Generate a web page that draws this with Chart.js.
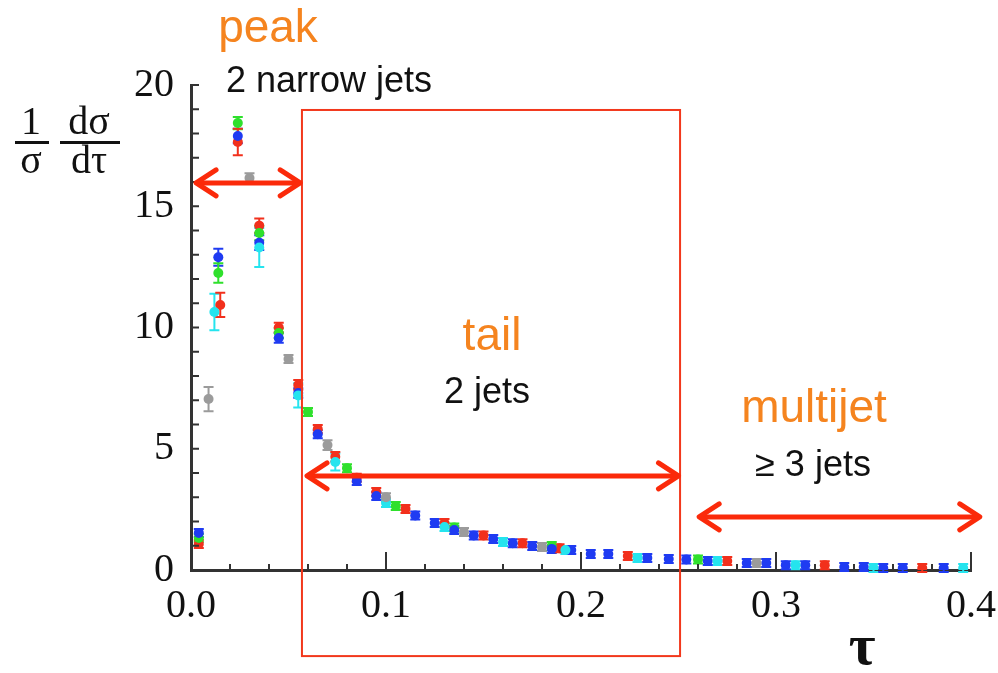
<!DOCTYPE html>
<html>
<head>
<meta charset="utf-8">
<script src="https://cdn.jsdelivr.net/npm/chart.js@4.4.1/dist/chart.umd.min.js"></script>
<style>
  html, body { margin: 0; padding: 0; background: #fff; }
  #wrap { width: 998px; height: 673px; }
</style>
</head>
<body>
<div id="wrap"><canvas id="myChart" width="998" height="673"></canvas></div>
<script>
// data: [tau, 1/sigma dsigma/dtau, error]
const redPts = [
  [0.004, 1.07, 0.15], [0.015, 10.93, 0.5], [0.024, 17.65, 0.55], [0.035, 14.2, 0.3],
  [0.045, 10.0, 0.2], [0.055, 7.63, 0.2], [0.065, 5.81, 0.15], [0.074, 4.67, 0.2],
  [0.085, 3.8, 0.1], [0.095, 3.22, 0.1], [0.11, 2.52, 0.05], [0.13, 1.94, 0.05],
  [0.15, 1.42, 0.05], [0.17, 1.1, 0.04], [0.189, 0.9, 0.04], [0.224, 0.58, 0.03],
  [0.275, 0.37, 0.02], [0.325, 0.2, 0.02], [0.375, 0.08, 0.02]
];
const greenPts = [
  [0.004, 1.32, 0.15], [0.014, 12.25, 0.4], [0.024, 18.43, 0.25], [0.035, 13.9, 0.3],
  [0.045, 9.77, 0.2], [0.06, 6.52, 0.1], [0.08, 4.2, 0.08], [0.105, 2.64, 0.06],
  [0.135, 1.75, 0.05], [0.185, 0.99, 0.04], [0.26, 0.43, 0.02]
];
const bluePts = [
  [0.004, 1.53, 0.15], [0.014, 12.9, 0.35], [0.024, 17.9, 0.3], [0.035, 13.5, 0.3],
  [0.045, 9.57, 0.2], [0.055, 7.3, 0.2], [0.065, 5.6, 0.1], [0.085, 3.67, 0.1],
  [0.095, 3.05, 0.08], [0.115, 2.25, 0.05], [0.125, 1.94, 0.05], [0.135, 1.65, 0.04],
  [0.145, 1.42, 0.04], [0.155, 1.28, 0.04], [0.165, 1.1, 0.03], [0.175, 0.99, 0.03],
  [0.185, 0.87, 0.03], [0.195, 0.82, 0.03], [0.205, 0.66, 0.03], [0.214, 0.66, 0.03],
  [0.234, 0.5, 0.02], [0.245, 0.45, 0.02], [0.254, 0.43, 0.02], [0.265, 0.37, 0.02],
  [0.285, 0.29, 0.02], [0.295, 0.29, 0.02], [0.305, 0.2, 0.02], [0.315, 0.2, 0.02],
  [0.335, 0.12, 0.02], [0.345, 0.12, 0.02], [0.355, 0.08, 0.02], [0.365, 0.08, 0.02],
  [0.386, 0.08, 0.02]
];
const cyanPts = [
  [0.012, 10.64, 0.75], [0.035, 13.3, 0.8], [0.055, 7.2, 0.5], [0.074, 4.45, 0.35],
  [0.1, 2.76, 0.15], [0.13, 1.77, 0.08], [0.16, 1.15, 0.05], [0.192, 0.82, 0.05],
  [0.229, 0.5, 0.04], [0.27, 0.37, 0.03], [0.31, 0.2, 0.02], [0.35, 0.08, 0.02],
  [0.396, 0.08, 0.02]
];
const grayPts = [
  [0.009, 7.05, 0.5], [0.03, 16.16, 0.2], [0.05, 8.7, 0.15], [0.07, 5.15, 0.2],
  [0.1, 3.0, 0.1], [0.14, 1.57, 0.05], [0.18, 0.95, 0.04], [0.29, 0.29, 0.02]
];

const xTicks = [0.0, 0.1, 0.2, 0.3, 0.4];
const yTicks = [0, 5, 10, 15, 20];

// regions: label, sublabel, double arrow (from, to, height)
const regionNames = ['peak', 'tail', 'multijet'];
const regionSubs = ['2 narrow jets', '2 jets', '\u2265 3 jets'];
const arrowFrom = [0.0026, 0.0595, 0.2606];
const arrowTo = [0.056, 0.25, 0.4045];
const arrowY = [15.96, 3.88, 2.19];
const tailBox = [0.0569, 0.2508, 18.97, -3.55];

const toObj = a => a.map(p => ({ x: p[0], y: p[1], err: p[2] }));

const orange = '#f5841f';
const arrowRed = '#fb2a0a';

const errorBars = {
  id: 'errorBars',
  beforeDatasetsDraw(chart) {
    const ctx = chart.ctx;
    const ys = chart.scales.y;
    chart.data.datasets.forEach((ds, i) => {
      const meta = chart.getDatasetMeta(i);
      ctx.save();
      ctx.strokeStyle = ds.borderColor;
      ctx.lineWidth = 2;
      meta.data.forEach((pt, j) => {
        const d = ds.data[j];
        const top = Math.min(ys.getPixelForValue(d.y + d.err), pt.y - 4);
        const bot = Math.max(ys.getPixelForValue(d.y - d.err), pt.y + 4);
        ctx.beginPath();
        ctx.moveTo(pt.x, top); ctx.lineTo(pt.x, bot);
        ctx.moveTo(pt.x - 5, top); ctx.lineTo(pt.x + 5, top);
        ctx.moveTo(pt.x - 5, bot); ctx.lineTo(pt.x + 5, bot);
        ctx.stroke();
      });
      ctx.restore();
    });
  }
};

const innerTicks = {
  id: 'innerTicks',
  afterDraw(chart) {
    const ctx = chart.ctx;
    const xs = chart.scales.x, ys = chart.scales.y;
    const a = chart.chartArea;
    ctx.save();
    ctx.strokeStyle = '#333';
    ctx.lineWidth = 2;
    ctx.beginPath();
    for (let k = 1; k <= 20; k++) {
      const v = k * 0.02;
      const px = xs.getPixelForValue(v);
      const len = (k % 5 === 0) ? 18 : 6;
      ctx.moveTo(px, a.bottom); ctx.lineTo(px, a.bottom - len);
    }
    for (let k = 1; k <= 20; k++) {
      const py = ys.getPixelForValue(k);
      ctx.moveTo(a.left, py); ctx.lineTo(a.left + 8, py);
    }
    ctx.stroke();
    ctx.restore();
  }
};

function arrowHead(ctx, x, y, dir) {
  ctx.beginPath();
  ctx.moveTo(x - dir * 20, y - 13);
  ctx.lineTo(x, y);
  ctx.lineTo(x - dir * 20, y + 13);
  ctx.stroke();
}

const notes = {
  id: 'notes',
  afterDraw(chart) {
    const ctx = chart.ctx;
    const xs = chart.scales.x, ys = chart.scales.y;
    ctx.save();
    // tail box
    ctx.strokeStyle = '#f2381c';
    ctx.lineWidth = 2;
    const bx0 = xs.getPixelForValue(tailBox[0]), bx1 = xs.getPixelForValue(tailBox[1]);
    const by0 = ys.getPixelForValue(tailBox[2]), by1 = ys.getPixelForValue(tailBox[3]);
    ctx.strokeRect(bx0, by0, bx1 - bx0, by1 - by0);

    // double arrows
    ctx.strokeStyle = arrowRed;
    ctx.lineWidth = 5;
    ctx.lineCap = 'round';
    ctx.lineJoin = 'round';
    for (let i = 0; i < 3; i++) {
      const x0 = xs.getPixelForValue(arrowFrom[i]);
      const x1 = xs.getPixelForValue(arrowTo[i]);
      const y = ys.getPixelForValue(arrowY[i]);
      ctx.beginPath(); ctx.moveTo(x0 + 2, y); ctx.lineTo(x1 - 2, y); ctx.stroke();
      arrowHead(ctx, x0, y, -1);
      arrowHead(ctx, x1, y, 1);
    }

    // region labels
    const namePos = [[268, 42], [492, 350], [814, 422]];
    const subPos = [[329, 92], [487, 403], [813, 476]];
    ctx.textAlign = 'center';
    ctx.textBaseline = 'alphabetic';
    for (let i = 0; i < 3; i++) {
      ctx.fillStyle = orange;
      ctx.font = '46px "Liberation Sans", Arial, sans-serif';
      ctx.fillText(regionNames[i], namePos[i][0], namePos[i][1]);
      ctx.fillStyle = '#111';
      ctx.font = '36px "Liberation Sans", Arial, sans-serif';
      ctx.fillText(regionSubs[i], subPos[i][0], subPos[i][1]);
    }

    // axis titles
    ctx.fillStyle = '#111';
    ctx.font = 'bold 58px "Liberation Serif", "Times New Roman", serif';
    ctx.fillText('\u03c4', 862, 664);

    ctx.font = '40px "Liberation Serif", "Times New Roman", serif';
    ctx.fillText('1', 31, 134);
    ctx.fillText('\u03c3', 31, 173);
    ctx.fillText('d\u03c3', 89, 134);
    ctx.fillText('d\u03c4', 89, 173);
    ctx.fillRect(15, 141, 34, 3);
    ctx.fillRect(60, 141, 60, 3);
    ctx.restore();
  }
};

const mk = (label, pts, color) => ({
  label: label,
  data: toObj(pts),
  backgroundColor: color,
  borderColor: color,
  pointRadius: 5,
  pointBorderWidth: 0,
  showLine: false
});

new Chart(document.getElementById('myChart').getContext('2d'), {
  type: 'scatter',
  data: {
    datasets: [
      mk('gray', grayPts, '#9b9b9b'),
      mk('cyan', cyanPts, '#25e4ee'),
      mk('blue', bluePts, '#1f3bf2'),
      mk('green', greenPts, '#2fe02c'),
      mk('red', redPts, '#f2301c')
    ]
  },
  options: {
    responsive: false,
    animation: false,
    layout: { padding: { top: 85, right: 27, left: 0, bottom: 0 } },
    plugins: { legend: { display: false }, tooltip: { enabled: false } },
    scales: {
      x: {
        type: 'linear',
        min: 0, max: 0.4,
        afterBuildTicks: s => { s.ticks = xTicks.map(v => ({ value: v })); },
        ticks: {
          color: '#111',
          padding: 12,
          maxRotation: 0,
          font: { family: '"Liberation Serif", "Times New Roman", serif', size: 40 },
          callback: v => Number(v).toFixed(1)
        },
        grid: { display: false, drawTicks: false },
        border: { display: true, color: '#333', width: 3 },
        afterFit: s => { s.height = 103; s.paddingLeft = 0; s.paddingRight = 0; }
      },
      y: {
        type: 'linear',
        min: 0, max: 20,
        afterBuildTicks: s => { s.ticks = yTicks.map(v => ({ value: v })); },
        ticks: {
          color: '#111',
          padding: 17,
          font: { family: '"Liberation Serif", "Times New Roman", serif', size: 40 }
        },
        grid: { display: false, drawTicks: false },
        border: { display: true, color: '#333', width: 3 },
        afterFit: s => { s.width = 191; s.paddingTop = 0; s.paddingBottom = 0; }
      }
    }
  },
  plugins: [errorBars, innerTicks, notes]
});
</script>
</body>
</html>
